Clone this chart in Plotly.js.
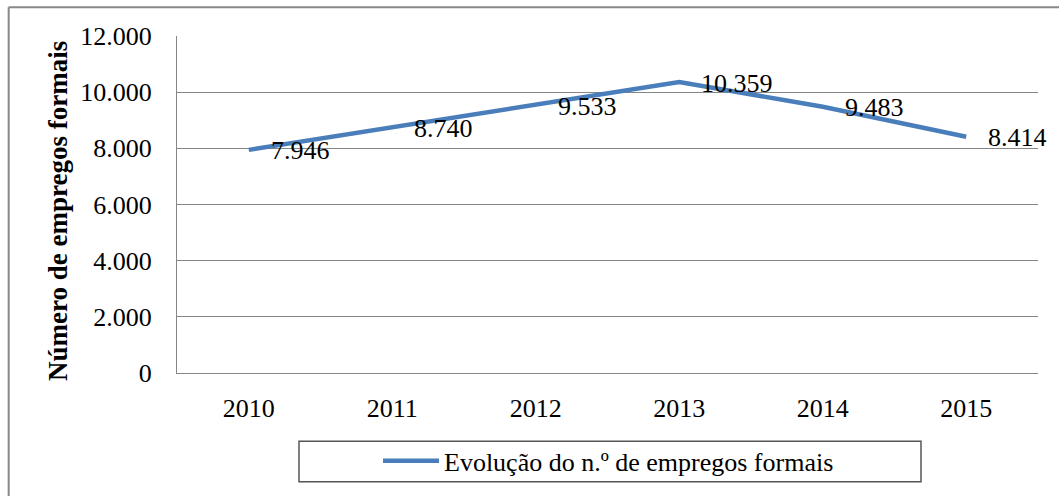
<!DOCTYPE html>
<html>
<head>
<meta charset="utf-8">
<script src="https://cdn.plot.ly/plotly-3.0.1.min.js"></script>
<style>html,body{margin:0;padding:0;background:#fff;}#chart{width:1059px;height:496px;}</style>
</head>
<body>
<div id="chart"></div>
<script>
// Data
const years = ['2010', '2011', '2012', '2013', '2014', '2015'];
const empregos = [7946, 8740, 9533, 10359, 9483, 8414];
const yTicks = [0, 2000, 4000, 6000, 8000, 10000, 12000];
const seriesName = 'Evolução do n.º de empregos formais';
const yTitle = 'Número de empregos formais';

function fmt(v) {
  return String(v).replace(/\B(?=(\d{3})+(?!\d))/g, '.');
}

const FONT = 'Liberation Serif';
const FS = 26;

const trace = {
  x: years,
  y: empregos,
  type: 'scatter',
  mode: 'lines',
  name: seriesName,
  line: {color: '#4a7ebb', width: 4.5}
};

const annotations = years.map((yr, i) => ({
  x: i, y: empregos[i], xref: 'x', yref: 'y',
  text: fmt(empregos[i]),
  showarrow: false,
  xanchor: 'left', yanchor: 'middle',
  xshift: 20, yshift: -1,
  font: {family: FONT, size: FS, color: '#000'}
}));

// y-axis title, drawn as a rotated annotation to match its placement
annotations.push({
  xref: 'paper', yref: 'paper',
  x: (58 - 177) / 861, y: (377 - 213) / 341,
  xanchor: 'center', yanchor: 'middle',
  textangle: -90,
  showarrow: false,
  text: '<b>' + yTitle + '</b>',
  font: {family: FONT, size: 27, color: '#000'}
});

const layout = {
  width: 1059, height: 496,
  margin: {l: 177, r: 21, t: 36, b: 119},
  paper_bgcolor: '#fff', plot_bgcolor: '#fff',
  font: {family: FONT, size: FS, color: '#000'},
  showlegend: true,
  legend: {
    orientation: 'h',
    x: (378 - 177) / 861, xanchor: 'left',
    y: (377 - 466) / 341, yanchor: 'middle',
    font: {family: FONT, size: FS, color: '#000'},
    itemwidth: 56,
    bgcolor: 'rgba(0,0,0,0)',
    borderwidth: 0
  },
  xaxis: {
    type: 'category',
    range: [-0.5, 5.5],
    showgrid: false,
    showline: true, linecolor: '#868686', linewidth: 1,
    ticks: '',
    ticklabelstandoff: 12,
    tickfont: {family: FONT, size: FS, color: '#000'},
    zeroline: false
  },
  yaxis: {
    range: [0, 12000],
    tickvals: yTicks,
    ticktext: yTicks.map(fmt),
    showgrid: true, gridcolor: '#868686', gridwidth: 1,
    showline: true, linecolor: '#868686', linewidth: 1,
    zeroline: false,
    ticks: '',
    ticklabelstandoff: 19,
    tickfont: {family: FONT, size: FS, color: '#000'},
    automargin: false
  },
  annotations: annotations,
  shapes: [
    {type: 'line', xref: 'paper', yref: 'paper', x0: -0.1955, x1: 1.05, y0: 1 + 29/341, y1: 1 + 29/341, line: {color: '#888', width: 2}},
    {type: 'line', xref: 'paper', yref: 'paper', x0: -0.1955, x1: -0.1955, y0: 1 + 29/341, y1: -0.4, line: {color: '#888', width: 2}},
    {type: 'rect', xref: 'paper', yref: 'paper', x0: (299-177)/861, x1: (921-177)/861, y0: (377-487)/341, y1: (377-446)/341, line: {color: '#555', width: 1.5}}
  ]
};

Plotly.newPlot('chart', [trace], layout, {displayModeBar: false});
</script>
</body>
</html>
